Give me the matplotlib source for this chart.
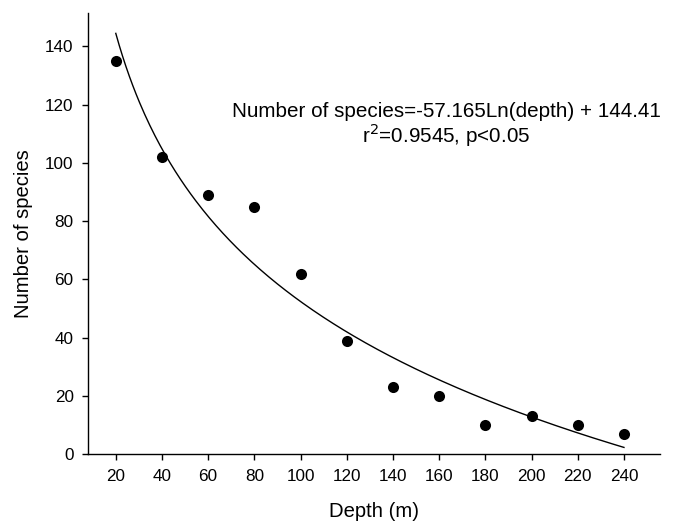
import numpy as np
import matplotlib
matplotlib.use("Agg")
import matplotlib.pyplot as plt

plt.rcParams['font.family'] = ['Liberation Sans', 'DejaVu Sans']

depth = [20, 40, 60, 80, 100, 120, 140, 160, 180, 200, 220, 240]
species = [135, 102, 89, 85, 62, 39, 23, 20, 10, 13, 10, 7]
coef_a = -57.165
coef_b = 144.41
xticks = [20, 40, 60, 80, 100, 120, 140, 160, 180, 200, 220, 240]
yticks = [0, 20, 40, 60, 80, 100, 120, 140]

W, H = 675, 522
fig = plt.figure(figsize=(W / 100, H / 100), dpi=100)
left, right, bottom, top = 88.3, 660, 454.3, 12.7
ax = fig.add_axes([left / W, 1 - bottom / H, (right - left) / W, (bottom - top) / H])

xf = np.linspace(20, 240, 300)
yf = coef_a * np.log(xf / 20) + coef_b
ax.plot(xf, yf, color='black', lw=1.0)
ax.scatter(depth, species, s=64, color='black', zorder=3, linewidths=0)

ax.set_xlim(8.1, 255.6)
ax.set_ylim(0, 151.5)
ax.set_xticks(xticks)
ax.set_yticks(yticks)
ax.spines['top'].set_visible(False)
ax.spines['right'].set_visible(False)
for s in ['left', 'bottom']:
    ax.spines[s].set_linewidth(1.0)
ax.tick_params(direction='out', length=4.5, width=1, labelsize=12.3, pad=6)
ax.set_xlabel('Depth (m)', fontsize=14.6)
ax.set_ylabel('Number of species', fontsize=14.6)
ax.xaxis.set_label_coords(0.5, (bottom - 502) / (bottom - top))
ax.yaxis.set_label_coords((33 - left) / (right - left), 0.5)

fig.text(446.3 / W, 1 - 116.7 / H, 'Number of species=-57.165Ln(depth) + 144.41',
         ha='center', va='baseline', fontsize=14.85)
fig.text(446.3 / W, 1 - 142.7 / H, r'r$^2$=0.9545, p<0.05',
         ha='center', va='baseline', fontsize=14.85)

fig.savefig('out.png', dpi=100)
